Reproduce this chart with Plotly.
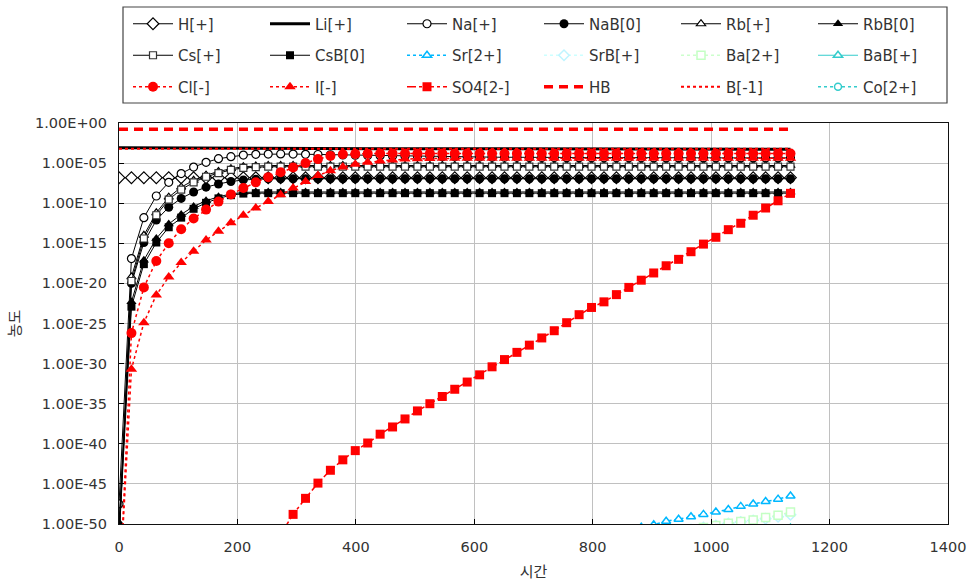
import plotly.graph_objects as go

# time axis (시간)
times = [0, 21, 42, 63, 84, 105, 126, 147, 168, 189, 210,
         231, 252, 273, 294, 315, 336, 357, 378, 399, 420,
         441, 462, 483, 504, 525, 546, 567, 588, 609, 630,
         651, 672, 693, 714, 735, 756, 777, 798, 819, 840,
         861, 882, 903, 924, 945, 966, 987, 1008, 1029, 1050,
         1071, 1092, 1113, 1134]

# series values as log10(concentration) (None = not shown)
H_log = [-6.82, -6.82, -6.82, -6.82, -6.82, -6.82, -6.82, -6.82, -6.82, -6.82, -6.82,
         -6.82, -6.82, -6.82, -6.82, -6.82, -6.82, -6.82, -6.82, -6.82, -6.82, -6.82,
         -6.82, -6.82, -6.82, -6.82, -6.82, -6.82, -6.82, -6.82, -6.82, -6.82, -6.82,
         -6.82, -6.82, -6.82, -6.82, -6.82, -6.82, -6.82, -6.82, -6.82, -6.82, -6.82,
         -6.82, -6.82, -6.82, -6.82, -6.82, -6.82, -6.82, -6.82, -6.82, -6.82, -6.82]
Li_log = [-3.08, -3.09, -3.10, -3.10, -3.11, -3.12, -3.12, -3.13, -3.13, -3.14, -3.14,
          -3.15, -3.15, -3.16, -3.16, -3.17, -3.17, -3.18, -3.18, -3.19, -3.19, -3.20,
          -3.20, -3.20, -3.21, -3.21, -3.21, -3.22, -3.22, -3.22, -3.23, -3.23, -3.23,
          -3.24, -3.24, -3.24, -3.25, -3.25, -3.25, -3.25, -3.26, -3.26, -3.26, -3.26,
          -3.27, -3.27, -3.27, -3.27, -3.27, -3.28, -3.28, -3.28, -3.28, -3.28, -3.28]
Na_log = [-47.5, -16.9, -11.8, -9.1, -7.4, -6.3, -5.5, -4.9, -4.45, -4.2, -4.0,
          -3.9, -3.87, -3.86, -3.87, -3.9, -3.93, -3.96, -3.99, -4.02, -4.05, -4.08,
          -4.11, -4.14, -4.16, -4.18, -4.2, -4.22, -4.24, -4.25, -4.26, -4.27, -4.28,
          -4.29, -4.3, -4.31, -4.32, -4.32, -4.33, -4.33, -4.34, -4.34, -4.34, -4.35,
          -4.35, -4.35, -4.35, -4.35, -4.35, -4.35, -4.35, -4.35, -4.35, -4.35, -4.35]
NaB_log = [-52.0, -20.0, -14.9, -12.1, -10.5, -9.4, -8.6, -8.0, -7.6, -7.3, -7.1,
           -7.0, -6.96, -6.95, -6.95, -6.95, -6.95, -6.95, -6.95, -6.95, -6.95, -6.95,
           -6.95, -6.95, -6.95, -6.95, -6.95, -6.95, -6.95, -6.95, -6.95, -6.95, -6.95,
           -6.95, -6.95, -6.95, -6.95, -6.95, -6.95, -6.95, -6.95, -6.95, -6.95, -6.95,
           -6.95, -6.95, -6.95, -6.95, -6.95, -6.95, -6.95, -6.95, -6.95, -6.95, -6.95]
Rb_log = [-51.0, -19.2, -14.0, -11.2, -9.25, -8.0, -7.15, -6.5, -6.05, -5.7, -5.45,
          -5.35, -5.3, -5.3, -5.3, -5.3, -5.3, -5.3, -5.3, -5.3, -5.3, -5.3,
          -5.3, -5.3, -5.3, -5.3, -5.3, -5.3, -5.3, -5.3, -5.3, -5.3, -5.3,
          -5.3, -5.3, -5.3, -5.3, -5.3, -5.3, -5.3, -5.3, -5.3, -5.3, -5.3,
          -5.3, -5.3, -5.3, -5.3, -5.3, -5.3, -5.3, -5.3, -5.3, -5.3, -5.3]
RbB_log = [-49.8, -22.3, -17.1, -14.4, -12.6, -11.4, -10.4, -9.7, -9.2, -8.85, -8.65,
           -8.6, -8.6, -8.6, -8.6, -8.6, -8.6, -8.6, -8.6, -8.6, -8.6, -8.6,
           -8.6, -8.6, -8.6, -8.6, -8.6, -8.6, -8.6, -8.6, -8.6, -8.6, -8.6,
           -8.6, -8.6, -8.6, -8.6, -8.6, -8.6, -8.6, -8.6, -8.6, -8.6, -8.6,
           -8.6, -8.6, -8.6, -8.6, -8.6, -8.6, -8.6, -8.6, -8.6, -8.6, -8.6]
Cs_log = [-52.0, -19.7, -14.4, -11.5, -9.55, -8.3, -7.4, -6.7, -6.25, -5.85, -5.6,
          -5.5, -5.45, -5.45, -5.45, -5.45, -5.45, -5.45, -5.45, -5.45, -5.45, -5.45,
          -5.45, -5.45, -5.45, -5.45, -5.45, -5.45, -5.45, -5.45, -5.45, -5.45, -5.45,
          -5.45, -5.45, -5.45, -5.45, -5.45, -5.45, -5.45, -5.45, -5.45, -5.45, -5.45,
          -5.45, -5.45, -5.45, -5.45, -5.45, -5.45, -5.45, -5.45, -5.45, -5.45, -5.45]
CsB_log = [-52.0, -22.9, -17.6, -14.9, -13.0, -11.8, -10.7, -9.95, -9.4, -9.0, -8.8,
           -8.75, -8.75, -8.75, -8.75, -8.75, -8.75, -8.75, -8.75, -8.75, -8.75, -8.75,
           -8.75, -8.75, -8.75, -8.75, -8.75, -8.75, -8.75, -8.75, -8.75, -8.75, -8.75,
           -8.75, -8.75, -8.75, -8.75, -8.75, -8.75, -8.75, -8.75, -8.75, -8.75, -8.75,
           -8.75, -8.75, -8.75, -8.75, -8.75, -8.75, -8.75, -8.75, -8.75, -8.75, -8.75]
Sr_log = [None, None, None, None, None, None, None, None, None, None, None,
          None, None, None, None, None, None, None, None, None, None, None,
          None, None, None, None, None, None, None, None, None, None, None,
          None, None, None, None, None, None, None, -51.3, -50.8, -50.4, -50.1,
          -49.65, -49.4, -49.1, -48.8, -48.5, -48.2, -47.8, -47.5, -47.2, -46.9, -46.5]
SrB_log = [None, None, None, None, None, None, None, None, None, None, None,
           None, None, None, None, None, None, None, None, None, None, None,
           None, None, None, None, None, None, None, None, None, None, None,
           None, None, None, None, None, None, None, None, None, None, None,
           None, -51.0, -50.7, -50.45, -50.2, -49.95, -49.75, -49.55, -49.35, -49.1, -48.85]
Ba_log = [None, None, None, None, None, None, None, None, None, None, None,
          None, None, None, None, None, None, None, None, None, None, None,
          None, None, None, None, None, None, None, None, None, None, None,
          None, None, None, None, None, None, None, None, None, None, None,
          -51.4, -51.0, -50.7, -50.45, -50.2, -49.9, -49.7, -49.5, -49.2, -48.9, -48.5]
BaB_log = [None, None, None, None, None, None, None, None, None, None, None,
           None, None, None, None, None, None, None, None, None, None, None,
           None, None, None, None, None, None, None, None, None, None, None,
           None, None, None, None, None, None, None, None, None, None, None,
           None, None, None, None, None, None, None, -51.0, -50.8, -50.65, -50.5]
Cl_log = [-60.0, -26.2, -20.5, -17.2, -15.0, -13.25, -11.9, -10.8, -9.8, -8.9, -8.1,
          -7.4, -6.75, -6.15, -5.55, -5.0, -4.5, -4.1, -3.9, -3.85, -3.82, -3.8,
          -3.8, -3.8, -3.8, -3.8, -3.8, -3.8, -3.8, -3.8, -3.8, -3.8, -3.8,
          -3.8, -3.8, -3.8, -3.8, -3.8, -3.8, -3.8, -3.8, -3.8, -3.8, -3.8,
          -3.8, -3.8, -3.8, -3.8, -3.8, -3.8, -3.8, -3.8, -3.8, -3.8, -3.8]
I_log = [-60.0, -30.7, -24.9, -21.45, -19.2, -17.4, -16.0, -14.6, -13.5, -12.45, -11.5,
         -10.6, -9.8, -8.95, -8.1, -7.3, -6.55, -5.95, -5.5, -5.15, -4.9, -4.75,
         -4.6, -4.5, -4.45, -4.42, -4.4, -4.4, -4.4, -4.4, -4.4, -4.4, -4.4,
         -4.4, -4.4, -4.4, -4.4, -4.4, -4.4, -4.4, -4.4, -4.4, -4.4, -4.4,
         -4.4, -4.4, -4.4, -4.4, -4.4, -4.4, -4.4, -4.4, -4.4, -4.4, -4.4]
SO4_log = [None, None, None, None, None, None, None, None, None, None, None,
           None, None, -51.3, -48.8, -46.8, -44.9, -43.3, -42.0, -40.85, -39.9, -38.8,
           -37.9, -36.9, -35.9, -35.0, -34.1, -33.2, -32.3, -31.4, -30.4, -29.5, -28.6,
           -27.7, -26.8, -25.9, -24.9, -23.9, -23.0, -22.3, -21.4, -20.5, -19.6, -18.7,
           -17.8, -17.0, -16.05, -15.1, -14.25, -13.3, -12.5, -11.5, -10.6, -9.7, -8.77]
HB_log = [-0.79, -0.79, -0.79, -0.79, -0.79, -0.79, -0.79, -0.79, -0.79, -0.79, -0.79,
          -0.79, -0.79, -0.79, -0.79, -0.79, -0.79, -0.79, -0.79, -0.79, -0.79, -0.79,
          -0.79, -0.79, -0.79, -0.79, -0.79, -0.79, -0.79, -0.79, -0.79, -0.79, -0.79,
          -0.79, -0.79, -0.79, -0.79, -0.79, -0.79, -0.79, -0.79, -0.79, -0.79, -0.79,
          -0.79, -0.79, -0.79, -0.79, -0.79, -0.79, -0.79, -0.79, -0.79, -0.79, -0.79]
B_log = [-3.2, -3.2, -3.2, -3.2, -3.2, -3.2, -3.2, -3.2, -3.2, -3.2, -3.2,
         -3.2, -3.2, -3.2, -3.2, -3.2, -3.2, -3.2, -3.2, -3.2, -3.2, -3.2,
         -3.2, -3.2, -3.2, -3.2, -3.2, -3.2, -3.2, -3.2, -3.2, -3.2, -3.2,
         -3.2, -3.2, -3.2, -3.2, -3.2, -3.2, -3.2, -3.2, -3.2, -3.2, -3.2,
         -3.2, -3.2, -3.2, -3.2, -3.2, -3.2, -3.2, -3.2, -3.2, -3.2, -3.2]
Co_log = [None, None, None, None, None, None, None, None, None, None, None,
          None, None, None, None, None, None, None, None, None, None, None,
          None, None, None, None, None, None, None, None, None, None, None,
          None, None, None, None, None, None, None, None, None, None, None,
          None, None, None, None, None, None, None, None, -52.0, -51.8, -51.6]

series_names = ["H[+]", "Li[+]", "Na[+]", "NaB[0]", "Rb[+]", "RbB[0]",
                "Cs[+]", "CsB[0]", "Sr[2+]", "SrB[+]", "Ba[2+]", "BaB[+]",
                "Cl[-]", "I[-]", "SO4[2-]", "HB", "B[-1]", "Co[2+]"]
series_logs = [H_log, Li_log, Na_log, NaB_log, Rb_log, RbB_log,
               Cs_log, CsB_log, Sr_log, SrB_log, Ba_log, BaB_log,
               Cl_log, I_log, SO4_log, HB_log, B_log, Co_log]

K = "#000000"
R = "#ff0000"
styles = [
    dict(line=dict(color=K, width=1), marker=dict(symbol="diamond", size=9, color="white", line=dict(color=K, width=1.2))),
    dict(line=dict(color=K, width=3), marker=None),
    dict(line=dict(color=K, width=1), marker=dict(symbol="circle", size=8, color="white", line=dict(color=K, width=1.2))),
    dict(line=dict(color=K, width=1), marker=dict(symbol="circle", size=9, color=K)),
    dict(line=dict(color=K, width=1), marker=dict(symbol="triangle-up", size=8, color="white", line=dict(color=K, width=1.2))),
    dict(line=dict(color=K, width=1), marker=dict(symbol="triangle-up", size=9, color=K)),
    dict(line=dict(color=K, width=1), marker=dict(symbol="square", size=7, color="white", line=dict(color="#333", width=1.2))),
    dict(line=dict(color=K, width=1), marker=dict(symbol="square", size=8, color=K)),
    dict(line=dict(color="#00b8ff", width=1.5, dash="dot"), marker=dict(symbol="triangle-up", size=8, color="white", line=dict(color="#00b8ff", width=1.5))),
    dict(line=dict(color="#ccffff", width=1.5, dash="dot"), marker=dict(symbol="diamond", size=8, color="white", line=dict(color="#bff4ff", width=1.5))),
    dict(line=dict(color="#ccffcc", width=1.5, dash="dot"), marker=dict(symbol="square", size=8, color="white", line=dict(color="#c4ffc4", width=1.5))),
    dict(line=dict(color="#33cccc", width=1.2), marker=dict(symbol="triangle-up", size=8, color="white", line=dict(color="#33cccc", width=1.5))),
    dict(line=dict(color=R, width=1.5, dash="dot"), marker=dict(symbol="circle", size=10, color=R)),
    dict(line=dict(color=R, width=1.5, dash="dot"), marker=dict(symbol="triangle-up", size=10, color=R)),
    dict(line=dict(color=R, width=1.5, dash="dashdot"), marker=dict(symbol="square", size=9, color=R)),
    dict(line=dict(color=R, width=3.5, dash="9px,6px"), marker=None),
    dict(line=dict(color=R, width=2, dash="dot"), marker=None),
    dict(line=dict(color="#33cccc", width=1.5, dash="dot"), marker=dict(symbol="circle", size=7, color="white", line=dict(color="#33cccc", width=1.5))),
]

legend_ids = ["legend", "legend2", "legend3"]

fig = go.Figure()
for i, (name, logs, st) in enumerate(zip(series_names, series_logs, styles)):
    yvals = [None if v is None else 10 ** v for v in logs]
    kw = dict(x=times, y=yvals, name=name, line=st["line"],
              legend=legend_ids[i // 6], connectgaps=False)
    if st["marker"] is None:
        kw["mode"] = "lines"
    else:
        kw["mode"] = "lines+markers"
        kw["marker"] = st["marker"]
    fig.add_trace(go.Scatter(**kw))

FONT = "DejaVu Sans, Noto Sans CJK KR"
KFONT = "Noto Sans CJK KR"
TXT = "#333333"

ytickvals = [1, 1e-5, 1e-10, 1e-15, 1e-20, 1e-25, 1e-30, 1e-35, 1e-40, 1e-45, 1e-50]
yticktext = ["1.00E+00", "1.00E-05", "1.00E-10", "1.00E-15", "1.00E-20", "1.00E-25",
             "1.00E-30", "1.00E-35", "1.00E-40", "1.00E-45", "1.00E-50"]

PLOT_H = 401.0
def py(px):
    return (524 - px) / PLOT_H

leg_common = dict(orientation="h", xanchor="left", yanchor="middle",
                  x=(128 - 119) / 829.0, entrywidth=82, entrywidthmode="pixels",
                  itemwidth=40, bgcolor="rgba(0,0,0,0)", borderwidth=0,
                  font=dict(family=FONT, size=15, color=TXT))

fig.update_layout(
    width=970, height=586,
    margin=dict(l=119, r=22, t=123, b=62, autoexpand=False),
    paper_bgcolor="white", plot_bgcolor="white",
    font=dict(family=FONT, size=15, color=TXT),
    legend=dict(leg_common, y=py(24)),
    legend2=dict(leg_common, y=py(55.5)),
    legend3=dict(leg_common, y=py(87)),
    xaxis=dict(range=[0, 1400], dtick=200, tick0=0, showgrid=True, gridcolor="#c0c0c0",
               gridwidth=1, showline=True, linecolor="#111", linewidth=1.2, mirror=True,
               ticks="inside", ticklen=5, tickcolor="#000", zeroline=False,
               ticklabelstandoff=9,
               tickfont=dict(family=FONT, size=14.5, color=TXT),
               title=dict(text="시간", font=dict(family=KFONT, size=15, color=TXT), standoff=12)),
    yaxis=dict(type="log", range=[-50, 0], tickvals=ytickvals, ticktext=yticktext,
               showgrid=True, gridcolor="#c0c0c0", gridwidth=1, showline=True,
               linecolor="#111", linewidth=1.2, mirror=True, ticks="inside", ticklen=5,
               tickcolor="#000", zeroline=False, ticklabelstandoff=8,
               tickfont=dict(family=FONT, size=14.5, color=TXT),
               title=dict(text="농도", font=dict(family=KFONT, size=15, color=TXT), standoff=10)),
    shapes=[dict(type="rect", xref="paper", yref="paper",
                 x0=(123 - 119) / 829.0, x1=(947 - 119) / 829.0,
                 y0=py(103), y1=py(7), line=dict(color="#444", width=1.2),
                 fillcolor="rgba(0,0,0,0)", layer="above")],
    showlegend=True,
)

fig.write_html("out.html")
